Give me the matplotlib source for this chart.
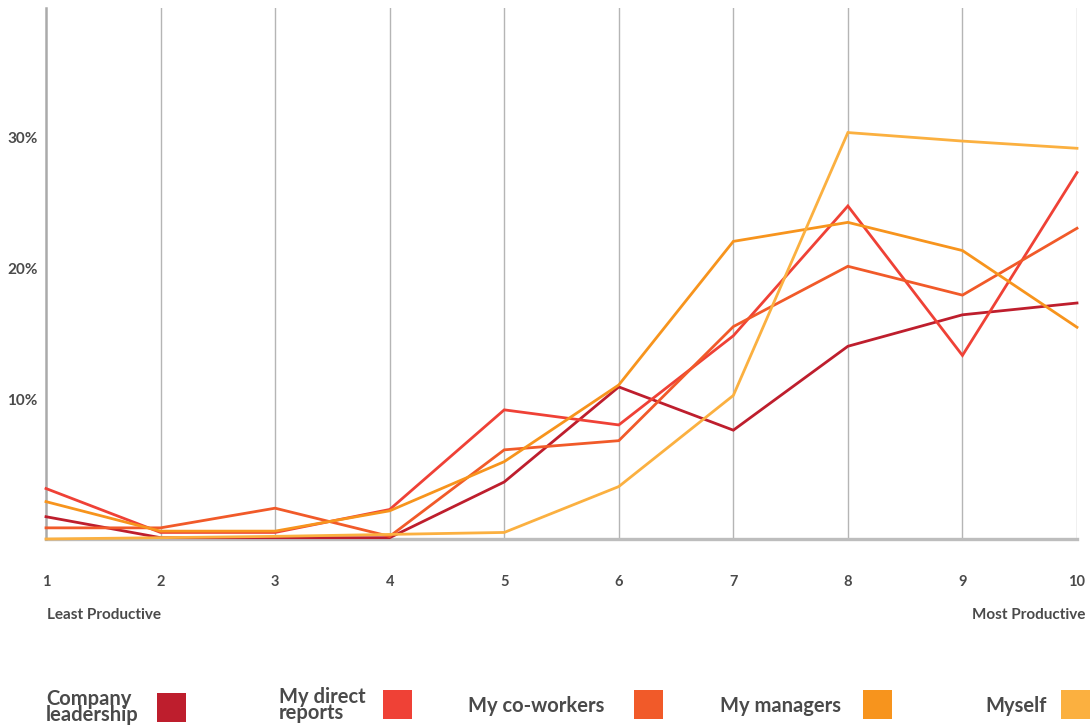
import matplotlib
matplotlib.use("Agg")
import matplotlib.pyplot as plt
from matplotlib.patches import Rectangle

# Productivity rating scale (1 = least productive, 10 = most productive)
scores = [1, 2, 3, 4, 5, 6, 7, 8, 9, 10]

# Share of respondents (%) giving each rating
company_leadership = [1.7, 0.1, 0.1, 0.1, 4.35, 11.6, 8.3, 14.7, 17.1, 18.0]
my_direct_reports = [3.85, 0.5, 0.5, 2.25, 9.85, 8.7, 15.5, 25.4, 14.0, 27.95]
my_coworkers = [0.85, 0.85, 2.35, 0.2, 6.8, 7.5, 16.2, 20.8, 18.6, 23.7]
my_managers = [2.85, 0.6, 0.6, 2.15, 5.9, 11.75, 22.7, 24.15, 22.0, 16.15]
myself = [0.0, 0.1, 0.2, 0.35, 0.5, 4.0, 10.95, 31.0, 30.35, 29.8]

series_labels = ["Company\nleadership", "My direct\nreports", "My co-workers",
                 "My managers", "Myself"]
series_values = [company_leadership, my_direct_reports, my_coworkers,
                 my_managers, myself]
series_colors = ["#BE1E2D", "#EF4136", "#F15A29", "#F7941D", "#FBB040"]

y_ticks = [10, 20, 30]
y_tick_labels = ["10%", "20%", "30%"]

TEXT = "#4a4a4a"
FONT = ["Lato", "DejaVu Sans"]
plt.rcParams["font.family"] = FONT

W, H = 1092, 726
fig = plt.figure(figsize=(W / 100, H / 100), dpi=100)
ax = fig.add_axes([46 / W, (H - 539) / H, (1077 - 46) / W, (539 - 8) / H])

for vals, color in zip(series_values, series_colors):
    ax.plot(scores, vals, color=color, lw=2.0, clip_on=False, zorder=3,
            solid_joinstyle="miter")

ax.set_xlim(1, 10)
ax.set_ylim(0, 40.5)

# vertical grid at every rating
for s in scores[1:]:
    ax.axvline(s, color="#b5b5b5", lw=1.0, zorder=1)

for side in ("top", "right"):
    ax.spines[side].set_visible(False)
ax.spines["left"].set_color("#aaaaaa")
ax.spines["left"].set_linewidth(1.8)
ax.spines["bottom"].set_color("#bdbdbd")
ax.spines["bottom"].set_linewidth(2.4)
ax.spines["bottom"].set_zorder(2)

ax.set_xticks(scores)
ax.set_xticklabels([str(s) for s in scores], fontsize=10.5, fontweight="bold",
                   color=TEXT)
ax.tick_params(axis="x", length=0, pad=26)

ax.set_yticks(y_ticks)
ax.set_yticklabels(y_tick_labels, fontsize=11, fontweight="bold",
                   color=TEXT, va="bottom")
ax.tick_params(axis="y", length=0, pad=6)

fig.text(47 / W, 1 - 615 / H, "Least Productive", fontsize=11,
         fontweight="bold", color=TEXT, ha="left", va="center")
fig.text(1085 / W, 1 - 615 / H, "Most Productive", fontsize=11,
         fontweight="bold", color=TEXT, ha="right", va="center")

# legend: label text followed by a colour swatch
text_x = [46, 279, 468, 720, 985]
text_y = [707, 705, 706, 706, 706]
swatch_x = [157, 383, 634, 863, 1061]
swatch_y = [693, 690, 690, 690, 690]
for label, color, tx, ty, sx, sy in zip(series_labels, series_colors, text_x,
                                        text_y, swatch_x, swatch_y):
    fig.text(tx / W, 1 - ty / H, label, fontsize=14.5, fontweight="bold",
             color=TEXT, ha="left", va="center", linespacing=0.8)
    fig.add_artist(Rectangle((sx / W, 1 - (sy + 29) / H), 29 / W, 29 / H,
                             transform=fig.transFigure, facecolor=color,
                             edgecolor="none"))

fig.savefig("out.png", dpi=100, facecolor="white")
